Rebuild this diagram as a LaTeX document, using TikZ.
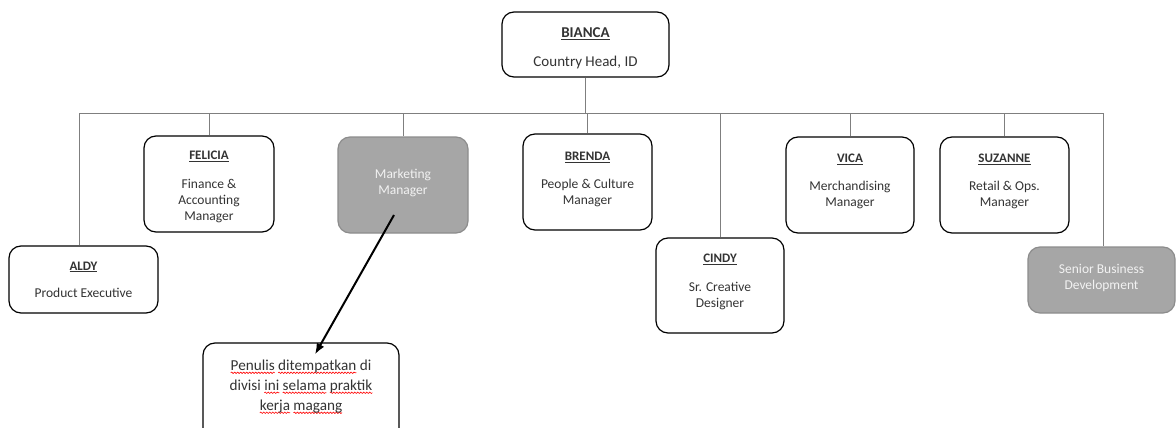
\documentclass[tikz,border=0pt]{standalone}
\usepackage{fontspec}
\setmainfont{Carlito}
\usetikzlibrary{arrows.meta,calc,decorations.pathmorphing}
\newsavebox\wavebox
\newcommand\redwave[1]{\sbox\wavebox{#1}\rlap{\tikz[overlay,baseline=0pt,sharp corners]\draw[red,line width=0.6pt,decorate,decoration={snake,amplitude=0.7pt,segment length=3pt}] (0pt,-2.5pt)--(\the\wd\wavebox,-2.5pt);}\usebox\wavebox}
\definecolor{conn}{HTML}{7F7F7F}
\definecolor{boxgray}{HTML}{A6A6A6}
\definecolor{boxedge}{HTML}{8C8C8C}
\tikzset{
  x=1pt,y=1pt,
  person/.style={draw=black,line width=1.2pt,rounded corners=12pt,align=center,
    inner sep=2pt,font=\fontsize{13.5}{16}\selectfont,text=black!80},
  vacant/.style={person,draw=boxedge,fill=boxgray,text=white!95!black},
  conline/.style={draw=conn,line width=1pt},
  pointer/.style={draw=black,line width=2pt,-{Latex[length=11pt,width=8.5pt]}}
}
\newcommand\nm[1]{{\fontsize{13}{15}\selectfont\bfseries\underline{#1}}}
\begin{document}
\begin{tikzpicture}
\useasboundingbox (0,0) rectangle (1176,-428);
\node[person,minimum width=167,minimum height=65] (bianca) at (585.5,-44.5)
  {{\fontsize{15}{17}\selectfont\bfseries\underline{BIANCA}}\\[13pt]{\fontsize{15}{17}\selectfont Country Head, ID}\\[-21pt]};
\node[person,minimum width=149,minimum height=67] (aldy) at (83.5,-279.5)
  {\nm{ALDY}\\[11pt]Product Executive};
\node[person,minimum width=130,minimum height=96] (felicia) at (209,-184)
  {\nm{FELICIA}\\[13pt]Finance \&\\Accounting\\Manager\\[-20pt]};
\node[vacant,minimum width=130,minimum height=96] (mkt) at (403,-185)
  {Marketing\\Manager\\[-9pt]};
\node[person,minimum width=129,minimum height=96] (brenda) at (587.5,-182)
  {\nm{BRENDA}\\[12pt]People \& Culture\\Manager\\[-9pt]};
\node[person,minimum width=128,minimum height=95] (cindy) at (720,-285.5)
  {\nm{CINDY}\\[13pt]Sr. Creative\\Designer\\[-6pt]};
\node[person,minimum width=128,minimum height=96] (vica) at (850,-185)
  {\nm{VICA}\\[12pt]Merchandising\\Manager\\[-7pt]};
\node[person,minimum width=129,minimum height=96] (suzanne) at (1004.5,-185)
  {\nm{SUZANNE}\\[12pt]Retail \& Ops.\\Manager\\[-7pt]};
\node[vacant,minimum width=147,minimum height=66] (senior) at (1101.5,-280)
  {Senior Business\\Development\\[-10pt]};
\node[person,minimum width=196,minimum height=100,font=\fontsize{15.2}{20}\selectfont] (penulis) at (301,-393)
  {\redwave{Penulis} \redwave{ditempatkan} di\\divisi \redwave{ini} \redwave{selama} \redwave{praktik}\\\redwave{kerja} \redwave{magang}\\[-4pt]};
% bus
\coordinate (bl) at (79,-113);
\coordinate (br) at (1103,-113);
\draw[conline] (bl) -- (br);
\draw[conline] (bianca.south) -- (bianca.south |- bl);
\draw[conline] (bl) -- (bl |- aldy.north);
\draw[conline] (br) -- (br |- senior.north);
\foreach \n in {felicia,mkt,brenda,vica,suzanne,cindy}
  \draw[conline] (\n.north) -- (\n.north |- bl);
% pointer
\coordinate (ps) at ($(mkt.center)+(-9,-30)$);
\coordinate (pe) at ($(penulis.north)+(14,-12)$);
\draw[pointer] (ps) -- (pe);
\end{tikzpicture}
\end{document}
